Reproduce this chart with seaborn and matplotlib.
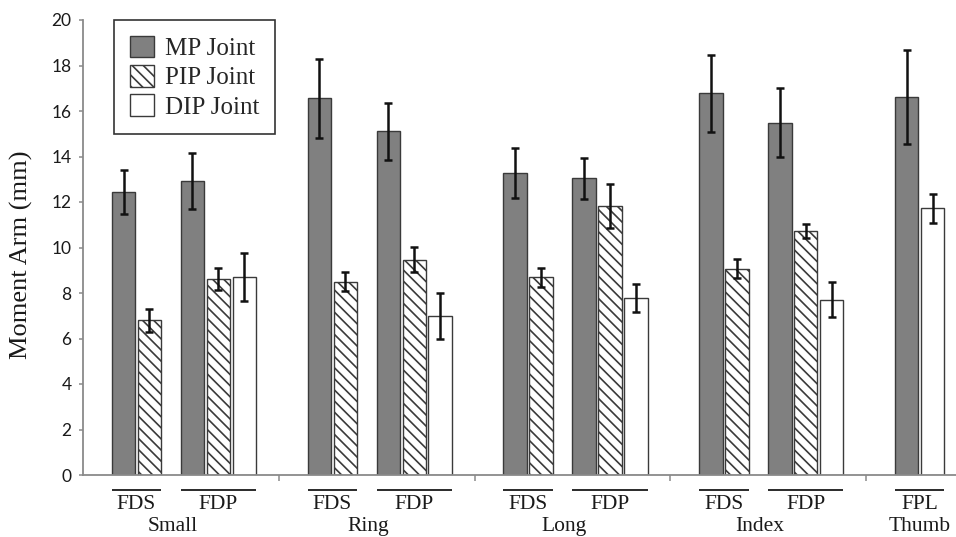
import numpy as np
import pandas as pd
import matplotlib
matplotlib.use("Agg")
import matplotlib.pyplot as plt
import matplotlib.transforms as mtransforms
from matplotlib.patches import Patch
import seaborn as sns

# ---------------- data ----------------
fingers = ["Small", "Ring", "Long", "Index", "Thumb"]
finger_muscles = [["FDS", "FDP"], ["FDS", "FDP"], ["FDS", "FDP"], ["FDS", "FDP"], ["FPL"]]
joints = ["MP Joint", "PIP Joint", "DIP Joint"]

# one entry per muscle group: Small FDS, Small FDP, Ring FDS, Ring FDP,
# Long FDS, Long FDP, Index FDS, Index FDP, Thumb FPL
mp_mean = [12.45, 12.92, 16.55, 15.11, 13.29, 13.04, 16.77, 15.49, 16.62]
mp_err = [0.97, 1.24, 1.75, 1.26, 1.10, 0.90, 1.68, 1.52, 2.05]
pip_mean = [6.80, 8.62, 8.49, 9.47, 8.69, 11.82, 9.07, 10.72, np.nan]
pip_err = [0.50, 0.47, 0.42, 0.55, 0.42, 0.95, 0.43, 0.32, np.nan]
dip_mean = [np.nan, 8.69, np.nan, 7.00, np.nan, 7.78, np.nan, 7.71, 11.72]
dip_err = [np.nan, 1.06, np.nan, 1.00, np.nan, 0.60, np.nan, 0.78, 0.65]

y_ticks = [0, 2, 4, 6, 8, 10, 12, 14, 16, 18, 20]
y_label = "Moment Arm (mm)"

# ---------------- layout (style, not data) ----------------
MUSCLE_START = [0.207, 0.559]   # offset of first bar of each muscle inside a finger
SLOT = 0.1325                   # spacing between adjacent bars
BAR_FRAC = 0.9                  # bar width as a fraction of the slot

means = {"MP Joint": mp_mean, "PIP Joint": pip_mean, "DIP Joint": dip_mean}
errs = {"MP Joint": mp_err, "PIP Joint": pip_err, "DIP Joint": dip_err}

rows = []
g = 0
group_spans = []
for fi, (finger, muscles) in enumerate(zip(fingers, finger_muscles)):
    for mi, muscle in enumerate(muscles):
        k = 0
        positions = []
        for j in joints:
            v = means[j][g]
            if np.isnan(v):
                continue
            pos = fi + MUSCLE_START[mi] + SLOT * k
            rows.append(dict(finger=finger, muscle=muscle, joint=j, pos=pos,
                             value=v, err=errs[j][g]))
            positions.append(pos)
            k += 1
        group_spans.append((fi, muscle, min(positions), max(positions)))
        g += 1
df = pd.DataFrame(rows)

# ---------------- style ----------------
sns.set_style("ticks")
plt.rcParams["font.family"] = ["Liberation Serif", "DejaVu Serif"]
plt.rcParams["hatch.linewidth"] = 1.2

EDGE = "#3a3a3a"
AXC = "#8a8a8a"
palette = {"MP Joint": "#808080", "PIP Joint": "#ffffff", "DIP Joint": "#ffffff"}
HATCH = "\\\\\\"

fig = plt.figure(figsize=(9.56, 5.37), dpi=100)
ax_left, ax_bottom = 83 / 956, 62 / 537
ax = fig.add_axes([ax_left, ax_bottom, 1 - ax_left, 455 / 537])

sns.barplot(data=df, x="pos", y="value", hue="joint", hue_order=joints,
            palette=palette, native_scale=True, dodge=False, width=BAR_FRAC,
            saturation=1, errorbar=None, legend=False,
            edgecolor=EDGE, linewidth=1.0, ax=ax)

# hatch for the PIP series
for cont, j in zip(ax.containers, joints):
    for bar in cont:
        bar.set_edgecolor(EDGE)
        if j == "PIP Joint":
            bar.set_hatch(HATCH)

ax.errorbar(df["pos"], df["value"], yerr=df["err"], fmt="none",
            ecolor="#111111", elinewidth=1.8, capsize=3.2, capthick=1.8, zorder=5)

ax.set_xlim(0, 873 / 195.8)
ax.set_ylim(0, 20)
ax.set_yticks(y_ticks)
ax.set_yticklabels([str(t) for t in y_ticks], family=["Lato", "DejaVu Sans"],
                   fontsize=12.5, color="#1a1a1a")
ax.set_xticks(range(1, len(fingers)))
ax.set_xticklabels([])
ax.set_xlabel("")
ax.tick_params(axis="y", direction="out", length=3.2, width=1.1, color=AXC, pad=5)
ax.tick_params(axis="x", direction="out", length=4.5, width=1.1, color=AXC)
for s in ["top", "right"]:
    ax.spines[s].set_visible(False)
for s in ["left", "bottom"]:
    ax.spines[s].set_color(AXC)
    ax.spines[s].set_linewidth(1.3)

ax.set_ylabel(y_label, fontsize=19, color="#1a1a1a")
ax.yaxis.set_label_coords(-0.057, 0.485)

# muscle / finger labels below the axis
trans = mtransforms.blended_transform_factory(ax.transData, ax.transAxes)
bar_w = SLOT * BAR_FRAC
finger_groups = {}
for fi, muscle, lo, hi in group_spans:
    x0, x1 = lo - bar_w / 2, hi + bar_w / 2
    ax.plot([x0, x1], [-0.033, -0.033], transform=trans, color="#2a2a2a",
            lw=1.4, clip_on=False, solid_capstyle="butt")
    ax.text((x0 + x1) / 2, -0.075, muscle, transform=trans, ha="center",
            va="baseline", fontsize=15.5, color="#1a1a1a")
    finger_groups.setdefault(fi, []).append((x0, x1))
for fi, spans in finger_groups.items():
    if len(spans) > 1:
        xc = fi + 0.457
    else:
        xc = (spans[0][0] + spans[0][1]) / 2
    ax.text(xc, -0.124, fingers[fi], transform=trans, ha="center",
            va="baseline", fontsize=15.5, color="#1a1a1a")

# legend
handles = [Patch(facecolor=palette[j], edgecolor=EDGE, linewidth=1.0,
                 hatch=HATCH if j == "PIP Joint" else None) for j in joints]
leg = ax.legend(handles, joints, loc="upper left",
                bbox_to_anchor=(114 / 956, 1 - 20 / 537),
                bbox_transform=fig.transFigure, borderaxespad=0,
                fontsize=18, handlelength=0.96, handleheight=0.96,
                handletextpad=0.45, labelspacing=0.2, borderpad=0.62,
                fancybox=False, framealpha=1, edgecolor="#333333")
leg.get_frame().set_linewidth(1.2)

fig.savefig("out.png", dpi=100)
